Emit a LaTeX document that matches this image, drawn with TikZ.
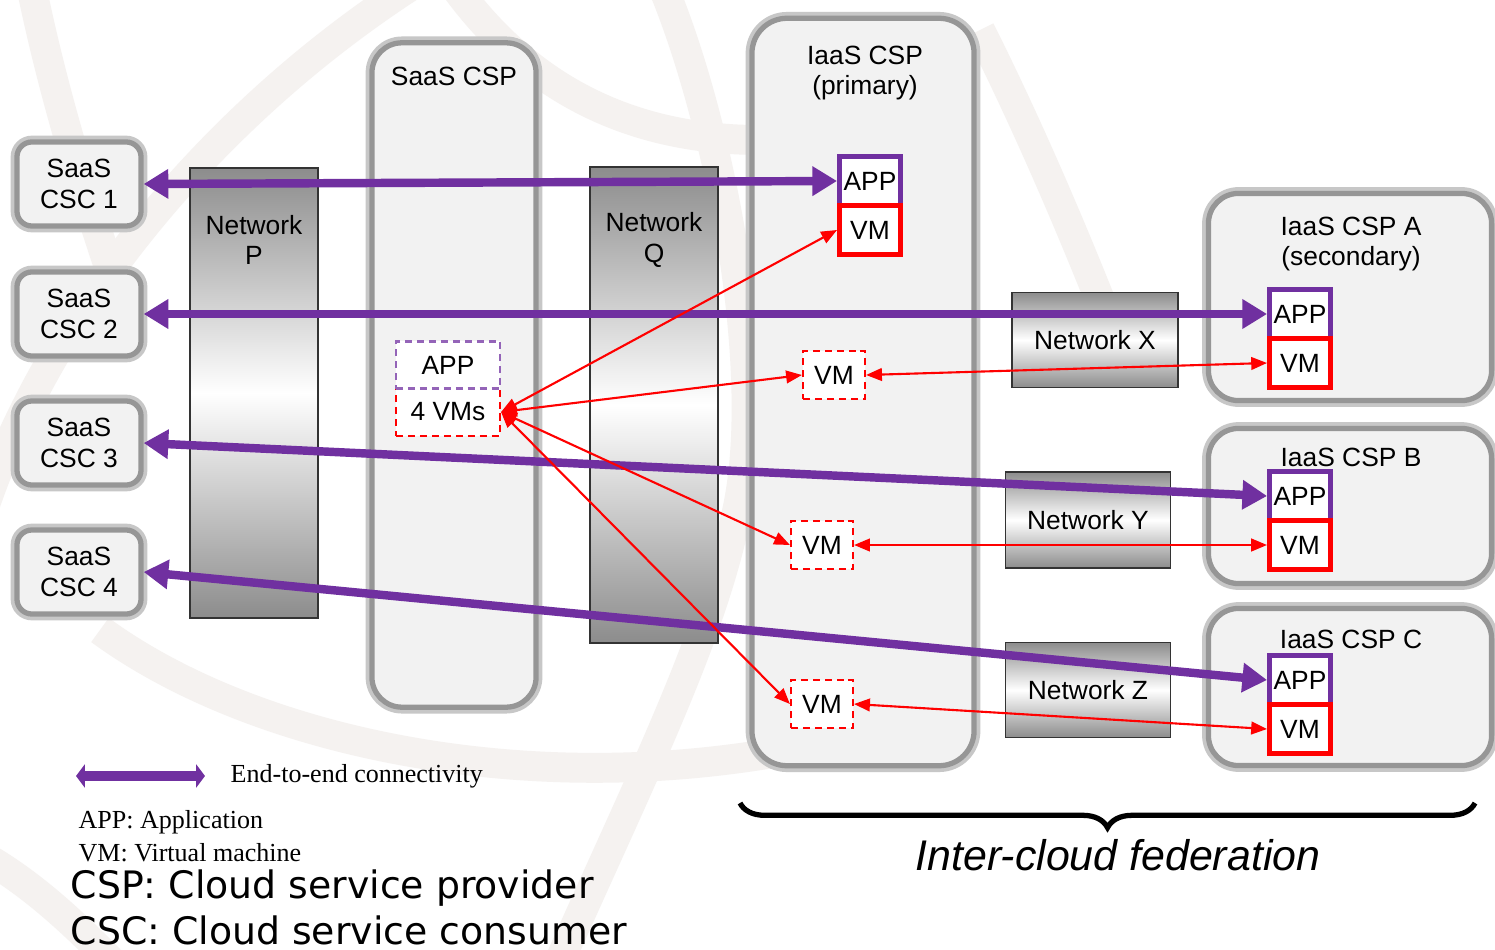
\documentclass[tikz,border=0pt]{standalone}
\usepackage{fontspec}
\setmainfont{Liberation Sans}
\newfontfamily\timesfont{Liberation Serif}
\newfontfamily\dejafont{DejaVu Sans}
\usepackage{tikz}
\usepackage{xcolor}
\usetikzlibrary{calc,arrows.meta,decorations.pathreplacing}

\definecolor{appviolet}{RGB}{112,48,160}
\definecolor{wmark}{RGB}{245,242,240}
\definecolor{cloudfill}{RGB}{242,242,242}
\definecolor{cloudline}{RGB}{150,150,150}

\begin{document}
\begin{tikzpicture}[x=0.01cm,y=-0.01cm,font=\fontsize{7.5}{8.6}\selectfont]
        \tikzstyle{csp}=[rectangle, draw=cloudline, line width=1.5pt, fill=cloudfill, rounded corners=0.3cm, preaction={draw=black!22, line width=3.6pt}]
        \tikzstyle{csc}=[csp, rounded corners=0.15cm, align=center, minimum width=1.24cm, minimum height=0.84cm]
        \tikzstyle{net}=[rectangle, draw=black!80, line width=0.5pt, top color=black!45, bottom color=black!45, middle color=white]
        \tikzstyle{app}=[rectangle, draw=appviolet, line width=1.4pt, fill=white, minimum width=0.61cm, minimum height=0.49cm, inner sep=0pt]
        \tikzstyle{vm}=[app, draw=red]
        \tikzstyle{vmd}=[rectangle, draw=red, line width=0.6pt, dash pattern=on 2pt off 1.4pt, fill=white, minimum width=0.62cm, minimum height=0.48cm, inner sep=0pt]
        \tikzstyle{appd}=[vmd, draw=appviolet!75]
        \tikzstyle{e2e}=[draw=appviolet, line width=2.4pt, <->, >={Triangle[length=7pt,width=8pt]}]
        \tikzstyle{vml}=[draw=red, line width=0.6pt, <->, >={Triangle[length=4.5pt,width=3.6pt]}]
        \tikzstyle{wm}=[draw=wmark, line width=8.5pt]
        \tikzstyle{legserif}=[anchor=west, inner sep=0pt, font={\timesfont\fontsize{7.4}{8.5}\selectfont}]
        \tikzstyle{legsans}=[anchor=west, inner sep=0pt, font={\dejafont\fontsize{10.75}{12}\selectfont}]

        \fill[white] (0,0) rectangle (1495,949);
        \useasboundingbox (0,0) rectangle (1495,949);

        % faint globe in the back
        \draw[wm] (420,-20) .. controls (200,120) and (40,330) .. (-20,520);
        \draw[wm] (30,-20) .. controls (50,80) and (80,180) .. (110,270);
        \draw[wm] (450,-20) .. controls (520,80) and (620,140) .. (760,140);
        \draw[wm] (660,-20) .. controls (720,120) and (770,380) .. (735,520);
        \draw[wm] (735,520) .. controls (710,640) and (640,780) .. (560,960);
        \draw[wm] (100,630) .. controls (250,740) and (520,800) .. (790,750);
        \draw[wm] (-10,860) .. controls (40,890) and (80,930) .. (110,960);
        \draw[wm] (980,30) .. controls (1020,110) and (1060,200) .. (1100,300);

        % consumers
        \node[csc] (csc1) at (79,184) {SaaS\\CSC 1};
        \node[csc] (csc2) at (79,314) {SaaS\\CSC 2};
        \node[csc] (csc3) at (79,443) {SaaS\\CSC 3};
        \node[csc] (csc4) at (79,572) {SaaS\\CSC 4};

        % providers
        \node[csp, minimum width=1.64cm, minimum height=6.64cm] (saas) at (454,375) {};
        \node (saaslbl) at ($(saas.north)+(0,36)$) {SaaS CSP};
        \node[csp, minimum width=2.22cm, minimum height=7.47cm, rounded corners=0.35cm] (iaasP) at (863,392) {};
        \node[align=center] (iaasPlbl) at (865,73) {IaaS CSP\\(primary)};
        \node[csp, minimum width=2.83cm, minimum height=2.07cm] (iaasA) at (1350,297) {};
        \node[align=center] (iaasAlbl) at (1351,244) {IaaS CSP A\\(secondary)};
        \node[csp, minimum width=2.83cm, minimum height=1.55cm] (iaasB) at (1350,506) {};
        \node (iaasBlbl) at (1351,457) {IaaS CSP B};
        \node[csp, minimum width=2.83cm, minimum height=1.57cm] (iaasC) at (1350,687) {};
        \node (iaasClbl) at (1351,639) {IaaS CSP C};

        % networks
        \node[net, minimum width=1.28cm, minimum height=4.5cm] (netP) at (254,393) {};
        \node[align=center] (netPlbl) at (254,240) {Network\\P};
        \node[net, minimum width=1.28cm, minimum height=4.75cm] (netQ) at (654,405) {};
        \node[align=center] (netQlbl) at (654,240) {Network\\Q};
        \node[net, minimum width=1.66cm, minimum height=0.95cm] (netX) at (1095,340) {Network X};
        \node[net, minimum width=1.65cm, minimum height=0.96cm] (netY) at (1088,520) {Network Y};
        \node[net, minimum width=1.65cm, minimum height=0.95cm] (netZ) at (1088,690) {Network Z};

        % application and VMs
        \node[vmd, minimum width=1.04cm] (vmS) at (448,412) {4 VMs};
        \node[appd, minimum width=1.04cm, minimum height=0.47cm] (appS) at ($(vmS)+(0,-47)$) {APP};
        \node[app] (appP) at (870,181) {APP};
        \node[vm] (vmP) at ($(appP)+(0,49)$) {VM};
        \node[app] (appA) at (1300,314) {APP};
        \node[vm] (vmA) at ($(appA)+(0,49)$) {VM};
        \node[app] (appB) at (1300,496) {APP};
        \node[vm] (vmB) at ($(appB)+(0,49)$) {VM};
        \node[app] (appC) at (1300,680) {APP};
        \node[vm] (vmC) at ($(appC)+(0,49)$) {VM};
        \node[vmd] (vm1) at (834,375) {VM};
        \node[vmd] (vm2) at (822,545) {VM};
        \node[vmd] (vm3) at (822,704) {VM};

        \draw[e2e] (csc1.east) -- (appP.west);
        \draw[e2e] (csc2.east) -- (appA.west);
        \draw[e2e] (csc3.east) -- (appB.west);
        \draw[e2e] (csc4.east) -- (appC.west);

        \draw[vml] (vmS.east) -- (vmP.west);
        \draw[vml] (vmS.east) -- (vm1.west);
        \draw[vml] (vmS.east) -- (vm2.west);
        \draw[vml] (vmS.east) -- (vm3.west);
        \draw[vml] (vm1.east) -- (vmA.west);
        \draw[vml] (vm2.east) -- (vmB.west);
        \draw[vml] (vm3.east) -- (vmC.west);

        % legend
        \coordinate (lg1) at (76,776);
        \coordinate (lg2) at (205,776);
        \draw[draw=appviolet, line width=2.8pt, <->, >={Triangle[length=2.5pt,width=6.5pt]}] (lg1) -- (lg2);
        \node[legserif] (lgtxt) at (230,776) {End-to-end connectivity};
        \node[legserif] (lgapp) at (78,822) {APP: Application};
        \node[legserif] (lgvm) at (78,853) {VM: Virtual machine};
        \node[legsans] (lgcsp) at (70,888) {CSP: Cloud service provider};
        \node[legsans] (lgcsc) at (70,930) {CSC: Cloud service consumer};

        % federation brace
        \coordinate (brR) at (1475,803);
        \coordinate (brL) at (740,803);
        \draw[line width=1.5pt, decorate, decoration={brace, amplitude=7pt}] (brR) -- (brL);
        \node[font=\itshape\fontsize{12.2}{14}\selectfont] (fed) at (1118,855) {Inter-cloud federation};
\end{tikzpicture}
\end{document}
